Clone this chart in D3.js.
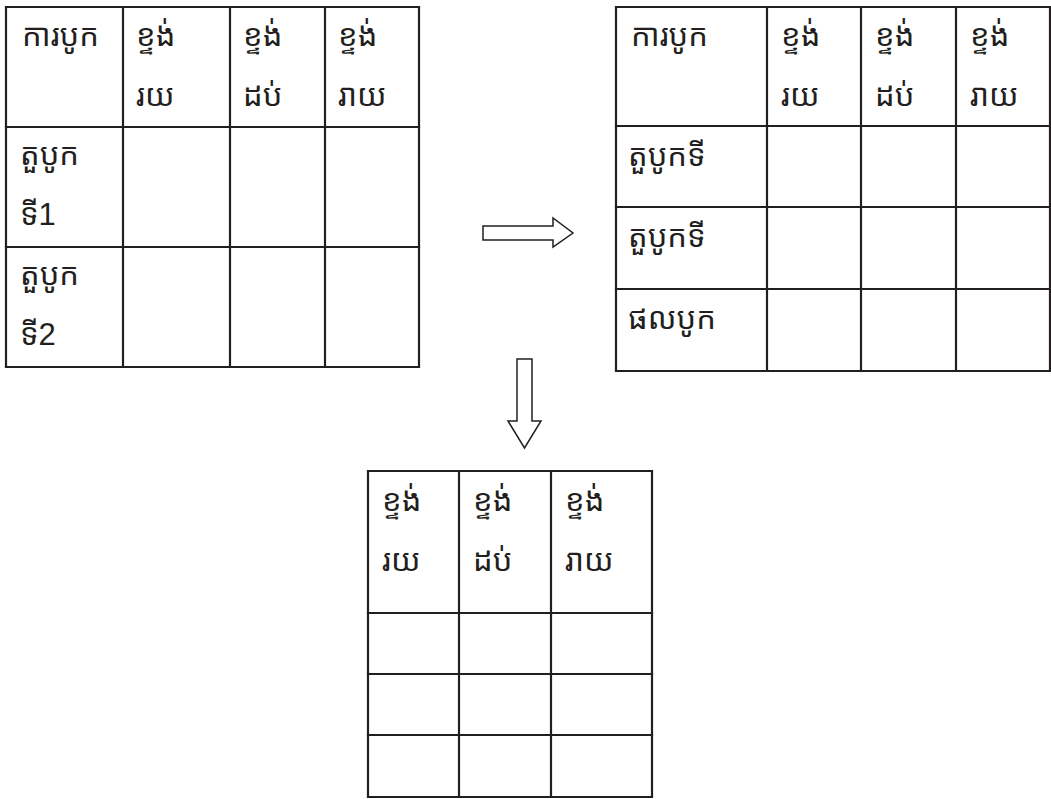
<!DOCTYPE html>
<html><head><meta charset="utf-8">
<script src="https://cdn.jsdelivr.net/npm/d3@7"></script>
<style>html,body{margin:0;padding:0;background:#fff}svg{display:block}</style>
</head><body>
<svg id="c" width="1051" height="799"></svg>
<script>
// Data
const headerCorner = "ការបូក";
const placeHeaders = [["ខ្ទង់","រយ"],["ខ្ទង់","ដប់"],["ខ្ទង់","រាយ"]];
const table1Rows = [["តួបូក","ទី1"],["តួបូក","ទី2"]];
const table2Rows = [["តួបូកទី"],["តួបូកទី"],["ផលបូក"]];
const table3BodyRows = 3;

// Layout (positions only)
const T1 = {cols:[6,123,230,325,419], rows:[7,127,247,367]};
const T2 = {cols:[616,767,861,956,1050], rows:[7,126,207,289,371]};
const T3 = {cols:[368,459,551,652], rows:[471,613,674,735,797]};

const svg = d3.select("#c");
const ink = "#231f20";
const fontFam = "'Liberation Sans','Noto Sans Khmer','Khmer OS',sans-serif";

function drawTable(T, cells){
  const g = svg.append("g");
  const x0 = T.cols[0], x1 = T.cols[T.cols.length-1];
  const y0 = T.rows[0], y1 = T.rows[T.rows.length-1];
  g.selectAll("line.v").data(T.cols).join("line")
    .attr("x1",d=>d).attr("x2",d=>d).attr("y1",y0).attr("y2",y1)
    .attr("stroke",ink).attr("stroke-width",2.2);
  g.selectAll("line.h").data(T.rows).join("line").attr("class","h")
    .attr("x1",x0-1.1).attr("x2",x1+1.1).attr("y1",d=>d).attr("y2",d=>d)
    .attr("stroke",ink).attr("stroke-width",2.2);
  cells.forEach(c=>{
    const t = g.append("text").attr("font-family",fontFam).attr("font-size",31).attr("fill",ink);
    c.lines.forEach((ln,i)=>{
      t.append("tspan").attr("x",T.cols[c.col]+c.dx).attr("y",T.rows[c.row]+c.dy+i*60).text(ln);
    });
  });
}

// Table 1
const c1 = [{col:0,row:0,lines:[headerCorner],dx:16,dy:39}];
placeHeaders.forEach((h,i)=>c1.push({col:i+1,row:0,lines:h,dx:13,dy:39}));
table1Rows.forEach((r,i)=>c1.push({col:0,row:i+1,lines:r,dx:14,dy:38}));
drawTable(T1,c1);

// Table 2
const c2 = [{col:0,row:0,lines:[headerCorner],dx:15,dy:39}];
placeHeaders.forEach((h,i)=>c2.push({col:i+1,row:0,lines:h,dx:14,dy:39}));
table2Rows.forEach((r,i)=>c2.push({col:0,row:i+1,lines:r,dx:12,dy:40}));
drawTable(T2,c2);

// Table 3
const c3 = [];
placeHeaders.forEach((h,i)=>c3.push({col:i,row:0,lines:h,dx:14,dy:40}));
drawTable(T3,c3);

// Arrows
const line = d3.line();
svg.append("path").attr("d", line([[483,226],[553,226],[553,218],[573,233],[553,247],[553,240],[483,240]])+"Z")
  .attr("fill","#fff").attr("stroke",ink).attr("stroke-width",1.5).attr("stroke-linejoin","miter");
svg.append("path").attr("d", line([[517,359],[532,359],[532,421],[541,421],[524.5,448],[508,421],[517,421]])+"Z")
  .attr("fill","#fff").attr("stroke",ink).attr("stroke-width",1.5).attr("stroke-linejoin","miter");
</script>
</body></html>
